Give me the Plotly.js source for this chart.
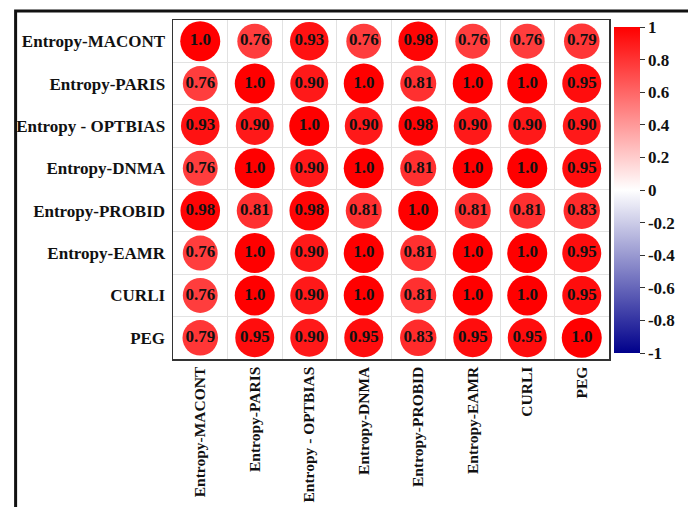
<!DOCTYPE html>
<html><head><meta charset="utf-8">
<script src="https://cdn.plot.ly/plotly-3.0.1.min.js"></script>
<style>html,body{margin:0;padding:0;background:#fff}#chart{width:688px;height:507px}</style>
</head><body><div id="chart"></div>
<script>
// Variable names (rows top-to-bottom, columns left-to-right)
const variables = ["Entropy-MACONT","Entropy-PARIS","Entropy - OPTBIAS","Entropy-DNMA","Entropy-PROBID","Entropy-EAMR","CURLI","PEG"];

// Correlation values, one array per row
const row_MACONT  = [1.0, 0.76, 0.93, 0.76, 0.98, 0.76, 0.76, 0.79];
const row_PARIS   = [0.76, 1.0, 0.90, 1.0, 0.81, 1.0, 1.0, 0.95];
const row_OPTBIAS = [0.93, 0.90, 1.0, 0.90, 0.98, 0.90, 0.90, 0.90];
const row_DNMA    = [0.76, 1.0, 0.90, 1.0, 0.81, 1.0, 1.0, 0.95];
const row_PROBID  = [0.98, 0.81, 0.98, 0.81, 1.0, 0.81, 0.81, 0.83];
const row_EAMR    = [0.76, 1.0, 0.90, 1.0, 0.81, 1.0, 1.0, 0.95];
const row_CURLI   = [0.76, 1.0, 0.90, 1.0, 0.81, 1.0, 1.0, 0.95];
const row_PEG     = [0.79, 0.95, 0.90, 0.95, 0.83, 0.95, 0.95, 1.0];

// Colorbar ticks
const cbTickVals = [1, 0.8, 0.6, 0.4, 0.2, 0, -0.2, -0.4, -0.6, -0.8, -1];
const cbTickText = ["1","0.8","0.6","0.4","0.2","0","-0.2","-0.4","-0.6","-0.8","-1"];

const matrix = [row_MACONT,row_PARIS,row_OPTBIAS,row_DNMA,row_PROBID,row_EAMR,row_CURLI,row_PEG];

const xs=[], ys=[], vals=[], sizes=[], labels=[];
const fullSize = 40;
matrix.forEach((row,i)=>{
  row.forEach((v,j)=>{
    xs.push(variables[j]); ys.push(variables[i]); vals.push(v);
    sizes.push(fullSize*Math.sqrt(Math.abs(v)));
    labels.push(v===1 ? "1.0" : v.toFixed(2));
  });
});

const serif = "Liberation Serif, Times New Roman, serif";

const trace = {
  type:'scatter', mode:'markers+text',
  x: xs, y: ys, text: labels,
  textposition:'middle center',
  textfont:{family:serif, size:17, color:'#111', weight:'bold'},
  hoverinfo:'none',
  marker:{
    size: sizes, color: vals, cmin:-1, cmax:1, opacity:1,
    colorscale:[[0,'#00008B'],[0.5,'#FFFFFF'],[1,'#FF0000']],
    line:{width:0},
    showscale:true,
    colorbar:{
      x:(624-173)/446, xanchor:'left', xpad:0,
      y:0.4985, yanchor:'middle', ypad:0,
      thickness:26, thicknessmode:'pixels',
      len:326, lenmode:'pixels',
      outlinewidth:0,
      ticks:'outside', ticklen:5, tickwidth:1, tickcolor:'#333',
      tickvals: cbTickVals, ticktext: cbTickText,
      tickfont:{family:serif, size:17, color:'#111', weight:'bold'}
    }
  }
};

const axisCommon = {
  type:'category', categoryorder:'array', categoryarray: variables,
  tickson:'boundaries', showgrid:true, gridcolor:'#e2e2e2', gridwidth:1,
  showline:true, mirror:true, linecolor:'#333', linewidth:1.5,
  ticks:'', zeroline:false, fixedrange:true
};

const layout = {
  width:688, height:507,
  margin:{l:173, r:69, t:20, b:148},
  paper_bgcolor:'#fff', plot_bgcolor:'#fff',
  showlegend:false,
  xaxis: Object.assign({}, axisCommon, {
    range:[-0.5,7.5], tickangle:-90,
    tickfont:{family:serif, size:15.5, color:'#111', weight:'bold'}
  }),
  yaxis: Object.assign({}, axisCommon, {
    range:[7.5,-0.5], ticklabelstandoff:3,
    tickfont:{family:serif, size:17, color:'#111', weight:'bold'}
  }),
  shapes:[{
    type:'rect', xref:'paper', yref:'paper',
    x0:(12-173)/446, x1:1.4, y0:-0.7, y1:(359-11)/339,
    line:{color:'#111', width:3}, fillcolor:'rgba(0,0,0,0)'
  }]
};

Plotly.newPlot('chart',[trace],layout,{displayModeBar:false, staticPlot:true});
</script></body></html>
